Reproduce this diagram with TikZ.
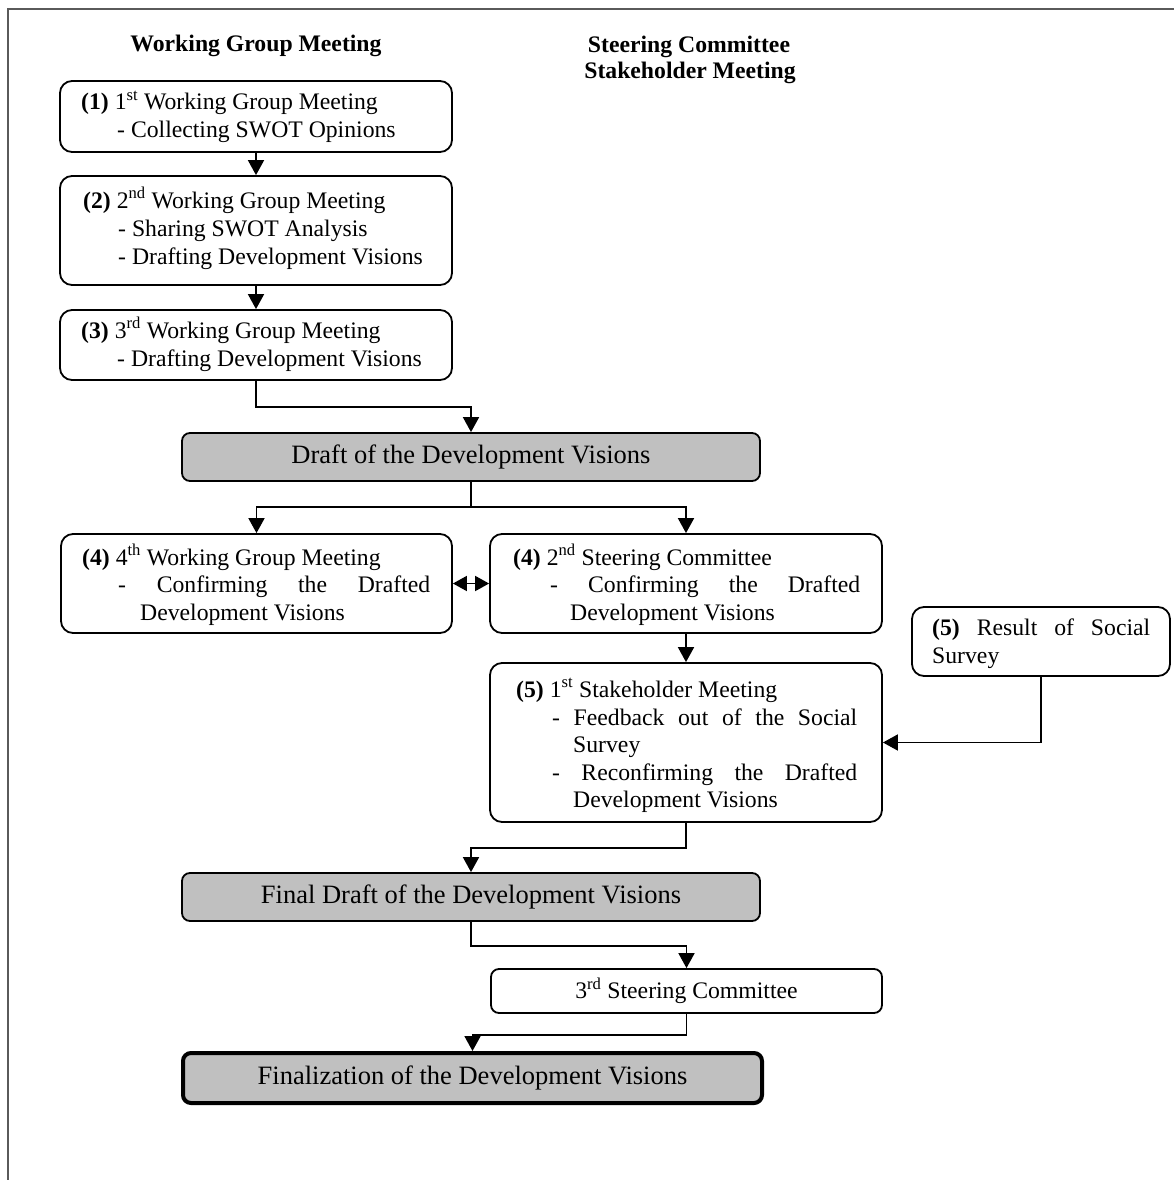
\documentclass[tikz,border=0pt]{standalone}
\usepackage{fontspec}
\setmainfont{Liberation Serif}
\usetikzlibrary{arrows.meta}
\definecolor{boxgray}{HTML}{C0C0C0}
\definecolor{framegray}{HTML}{5A5A5A}
\tikzset{
  box/.style={draw, line width=1.8pt, rounded corners=12pt, inner sep=0pt, fill=white},
  graybox/.style={draw, line width=1.8pt, rounded corners=8pt, fill=boxgray, inner sep=0pt,
    font=\fontsize{26.5}{30}\selectfont},
  smallbox/.style={draw, line width=1.8pt, rounded corners=8pt, fill=white, inner sep=0pt,
    font=\fontsize{23.7}{28}\selectfont},
  txt/.style={inner sep=0pt, anchor=base west, font=\fontsize{23.7}{28}\selectfont},
  hdr/.style={inner sep=0pt, anchor=base, font=\bfseries\fontsize{23.7}{28}\selectfont},
  ln/.style={line width=1.8pt},
  arr/.style={line width=1.8pt, -{Triangle[length=15pt,width=16pt]}},
  arrtwo/.style={line width=1.8pt, {Triangle[length=14pt,width=15pt]}-{Triangle[length=14pt,width=15pt]}},
}
\begin{document}
\begin{tikzpicture}[x=1pt,y=-1pt]
\useasboundingbox (0,0) rectangle (1174,1180);
% frame
\draw[framegray, line width=2.2pt] (8,1182) -- (8,9) -- (1176,9);

% headers
\node[hdr] (h1) at (256,52) {Working Group Meeting};
\node[hdr] (h2) at (689,53) {Steering Committee};
\node[hdr] (h3) at (690,79) {Stakeholder Meeting};

% boxes
\node[box, minimum width=392pt, minimum height=71pt] (b1) at (256,116.5) {};
\node[box, minimum width=392pt, minimum height=109pt] (b2) at (256,230.5) {};
\node[box, minimum width=392pt, minimum height=70pt] (b3) at (256,345) {};
\node[graybox, minimum width=578pt, minimum height=48pt] (draft) at (471,457) {Draft of the Development Visions};
\node[box, minimum width=391pt, minimum height=99pt] (b4l) at (256.5,583.5) {};
\node[box, minimum width=392pt, minimum height=99pt] (b4r) at (686,583.5) {};
\node[box, minimum width=392pt, minimum height=159pt] (b5) at (686,742.5) {};
\node[box, minimum width=258pt, minimum height=69pt] (res) at (1041,641.5) {};
\node[graybox, minimum width=578pt, minimum height=48pt] (final) at (471,897) {Final Draft of the Development Visions};
\node[smallbox, minimum width=391pt, minimum height=44pt] (s3) at (686.5,991) {3\textsuperscript{rd} Steering Committee};
\node[graybox, line width=4pt, minimum width=579pt, minimum height=50pt] (fin) at (472.5,1078) {Finalization of the Development Visions};

% texts box 1
\node[txt] (t1a) at (81,110) {\textbf{(1)} 1\textsuperscript{st} Working Group Meeting};
\node[txt] (t1b) at (117,138) {- Collecting SWOT Opinions};
% box 2
\node[txt] (t2a) at (83,208) {\textbf{(2)} 2\textsuperscript{nd} Working Group Meeting};
\node[txt] (t2b) at (118,236) {- Sharing SWOT Analysis};
\node[txt] (t2c) at (118,264) {- Drafting Development Visions};
% box 3
\node[txt] (t3a) at (81,338) {\textbf{(3)} 3\textsuperscript{rd} Working Group Meeting};
\node[txt] (t3b) at (117,366) {- Drafting Development Visions};
% box 4 left
\node[txt] (t4a) at (82,565) {\textbf{(4)} 4\textsuperscript{th} Working Group Meeting};
\node[txt] (t4b) at (118,592) {\hbox to 312pt{-\hfill Confirming\hfill the\hfill Drafted}};
\node[txt] (t4c) at (140,620) {Development Visions};
% box 4 right
\node[txt] (t5a) at (513,565) {\textbf{(4)} 2\textsuperscript{nd} Steering Committee};
\node[txt] (t5b) at (550,592) {\hbox to 310pt{-\hfill Confirming\hfill the\hfill Drafted}};
\node[txt] (t5c) at (570,620) {Development Visions};
% box 5
\node[txt] (t6a) at (516,697) {\textbf{(5)} 1\textsuperscript{st} Stakeholder Meeting};
\node[txt] (t6b) at (552,725) {\hbox to 305pt{-\hfill Feedback\hfill out\hfill of\hfill the\hfill Social}};
\node[txt] (t6c) at (573,752) {Survey};
\node[txt] (t6d) at (552,780) {\hbox to 305pt{-\hfill Reconfirming\hfill the\hfill Drafted}};
\node[txt] (t6e) at (573,807) {Development Visions};
% result box
\node[txt] (t7a) at (932,635) {\hbox to 218pt{\textbf{(5)}\hfill Result\hfill of\hfill Social}};
\node[txt] (t7b) at (932,663) {Survey};

% connectors
\draw[arr] (b1.south) -- (b2.north);
\draw[arr] (b2.south) -- (b3.north);
\draw[arr] (b3.south) -- ++(0,26) -| (draft.north);
\coordinate (split) at (471,507);
\draw[ln] (draft.south) -- (split);
\draw[arr] (split) -| (b4l.north);
\draw[arr] (split) -| (b4r.north);
\draw[arrtwo] (b4l.east) -- (b4r.west);
\draw[arr] (b4r.south) -- (b5.north);
\draw[arr] (res.south) |- (b5.east);
\draw[arr] (b5.south) -- ++(0,25) -| (final.north);
\draw[arr] (final.south) -- ++(0,24) -| (s3.north);
\draw[arr] (s3.south) -- ++(0,21) -| (fin.north);
\end{tikzpicture}
\end{document}
